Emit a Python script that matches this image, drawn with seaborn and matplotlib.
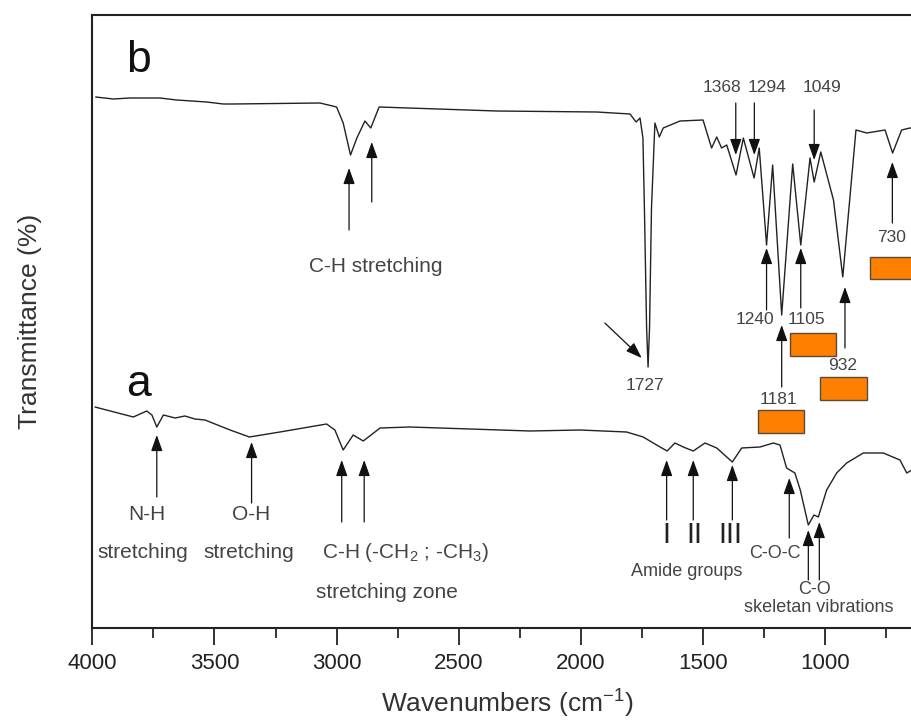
import pandas as pd
import seaborn as sns
import matplotlib.pyplot as plt
from matplotlib.patches import Rectangle
from matplotlib.ticker import MultipleLocator

# Espectro b (arriba)
wn_b = [3986, 3914, 3846, 3723, 3655, 3532, 3464, 3423, 3068, 3000, 2973, 2943, 2917,
        2884, 2860, 2826, 2345, 1935, 1799, 1774, 1758, 1746, 1740, 1731, 1725, 1719,
        1711, 1697, 1679, 1663, 1594, 1500, 1485, 1465, 1444, 1424, 1403, 1365, 1335,
        1291, 1270, 1240, 1215, 1178, 1133, 1100, 1062, 1045, 1018, 966, 928, 874, 830,
        755, 724, 687, 653, 600]
tr_b = [531, 529, 530, 530, 528, 526, 524, 524, 525, 521, 505, 473, 490,
        507, 500, 521, 517, 516, 514, 506, 510, 490, 420, 300, 261, 300,
        420, 505, 491, 500, 507, 508, 496, 480, 491, 480, 483, 453, 490,
        450, 480, 383, 463, 313, 464, 383, 470, 446, 476, 428, 351, 498, 495,
        498, 475, 498, 500, 500]

# Espectro a (abajo)
wn_a = [3989, 3832, 3777, 3756, 3736, 3709, 3661, 3621, 3580, 3539, 3436, 3357, 3232,
        3041, 3007, 2973, 2932, 2891, 2822, 2700, 2208, 2004, 1813, 1745, 1690, 1647,
        1615, 1581, 1540, 1492, 1444, 1380, 1342, 1267, 1212, 1185, 1158, 1124, 1102,
        1069, 1046, 1028, 994, 953, 912, 844, 762, 694, 666, 645, 600]
tr_a = [221, 211, 217, 213, 201, 213, 210, 212, 209, 208, 198, 191, 196,
        204, 198, 178, 193, 187, 200, 201, 197, 198, 196, 191, 183, 177,
        185, 181, 177, 185, 180, 166, 180, 181, 185, 183, 160, 155, 138,
        103, 113, 111, 138, 155, 165, 175, 175, 168, 155, 158, 160]

# flechas: (x, punta, cola)
flechas_b = [(2949, 460, 398), (2856, 486, 426), (1366, 473, 525), (1290, 473, 525),
             (1045, 468, 518), (725, 466, 405), (1240, 380, 318), (1100, 380, 320),
             (1178, 303, 241), (919, 341, 280)]
flechas_a = [(3736, 193, 131), (3348, 186, 125), (2979, 168, 106), (2887, 168, 106),
             (1649, 168, 108), (1540, 168, 108), (1380, 163, 108), (1147, 150, 90),
             (1069, 98, 48), (1024, 106, 48)]

etiquetas_b = [('1368', 1424, 541), ('1294', 1240, 541), ('1049', 1014, 541),
               ('730', 728, 390), ('1240', 1287, 308), ('1105', 1076, 308),
               ('1181', 1192, 228), ('932', 928, 263), ('1727', 1738, 243)]
textos_a = [('N-H', 3776, 113, 15), ('stretching', 3792, 76, 15),
            ('O-H', 3348, 113, 15), ('stretching', 3361, 75, 15),
            ('C-H (-CH$_\\mathregular{2}$ ; -CH$_\\mathregular{3}$)', 2720, 76, 15),
            ('stretching zone', 2795, 36, 15), ('Amide groups', 1567, 56, 13),
            ('C-O-C', 1205, 75, 13), ('C-O', 1042, 39, 13),
            ('skeletan vibrations', 1028, 20, 13)]
romanos = [('I', 1649, 93), ('II', 1537, 93), ('III', 1387, 93)]

# rectangulos naranjas: (x0, x1, y0, y1)
cajas = [(1144, 956, 272, 295), (1021, 830, 228, 251), (1274, 1087, 195, 218),
         (817, 600, 349, 371)]

sns.set_style('ticks')
plt.rcParams['font.family'] = ['Liberation Sans', 'DejaVu Sans']
plt.rcParams['mathtext.fontset'] = 'custom'
plt.rcParams['mathtext.rm'] = 'Liberation Sans'

fig = plt.figure(figsize=(9.12, 7.24), dpi=100)
ax = fig.add_axes([92.3 / 912, 96 / 724, (922.9 - 92.3) / 912, 613 / 724])

df_b = pd.DataFrame({'wn': wn_b, 'tr': tr_b})
df_a = pd.DataFrame({'wn': wn_a, 'tr': tr_a})
sns.lineplot(data=df_b, x='wn', y='tr', ax=ax, sort=False, estimator=None, color='#222222', lw=1.0)
sns.lineplot(data=df_a, x='wn', y='tr', ax=ax, sort=False, estimator=None, color='#222222', lw=1.0)

ax.set_xlim(4000, 600)
ax.set_ylim(0, 613)

estilo = dict(arrowstyle='-|>,head_length=0.7,head_width=0.25', color='#111111', lw=0.9,
              mutation_scale=14, shrinkA=0, shrinkB=0)
for x, punta, cola in flechas_b + flechas_a:
    ax.annotate('', xy=(x, punta), xytext=(x, cola), arrowprops=estilo)
ax.annotate('', xy=(1751, 270), xytext=(1902, 305), arrowprops=estilo)

gris = '#444444'
for t, x, y in etiquetas_b:
    ax.text(x, y, t, ha='center', va='center', fontsize=12.5, color=gris)
ax.text(2838, 361, 'C-H stretching', ha='center', va='center', fontsize=15, color=gris)
for t, x, y, fs in textos_a:
    ax.text(x, y, t, ha='center', va='center', fontsize=fs, color=gris)
for t, x, y in romanos:
    ax.text(x, y, t, ha='center', va='center', fontsize=21, color='#222222')

ax.text(3812, 568, 'b', ha='center', va='center', fontsize=32, color='#111111')
ax.text(3812, 243, 'a', ha='center', va='center', fontsize=32, color='#111111')

for x0, x1, y0, y1 in cajas:
    ax.add_patch(Rectangle((x1, y0), x0 - x1, y1 - y0, facecolor='#FF8000',
                           edgecolor='#5a4a3a', lw=1.0, zorder=3))

ax.xaxis.set_major_locator(MultipleLocator(500))
ax.xaxis.set_minor_locator(MultipleLocator(250))
ax.tick_params(axis='x', which='major', length=12, width=1.3, pad=6, labelsize=16, colors='#222222')
ax.tick_params(axis='x', which='minor', length=7, width=1.3)
ax.tick_params(axis='y', left=False, labelleft=False)
for lado in ['left', 'bottom', 'top']:
    ax.spines[lado].set_linewidth(1.5)
    ax.spines[lado].set_color('#222222')
ax.spines['right'].set_visible(False)

ax.set_xlabel('Wavenumbers (cm$^{\\mathregular{-1}}$)', fontsize=19, color='#333333', labelpad=9)
ax.set_ylabel('Transmittance (%)', fontsize=19, color='#333333', labelpad=36)

plt.savefig('out.png', dpi=100)
